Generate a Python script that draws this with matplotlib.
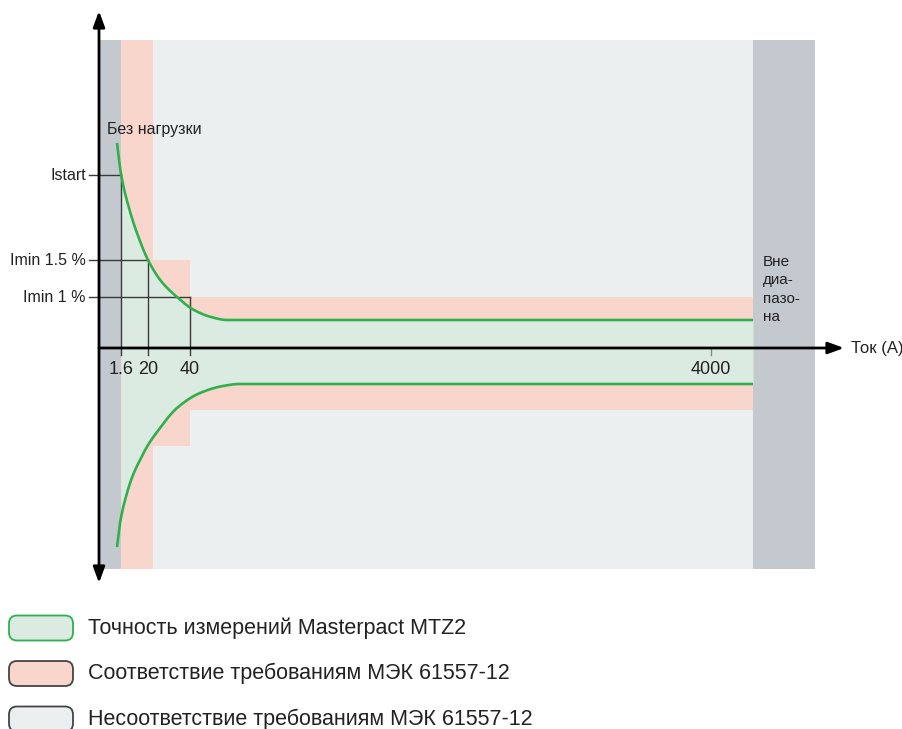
import matplotlib
matplotlib.use("Agg")
import matplotlib.pyplot as plt
from matplotlib.patches import Rectangle, FancyBboxPatch, FancyArrowPatch
import numpy as np

plt.rcParams['font.family'] = ['Liberation Sans', 'DejaVu Sans']

# ---- schematic layout units (origin = intersection of the axes) ----
# zone boundaries along the current axis
x_no_load = 22        # end of the "no load" zone
x_pink_full = 54      # end of the full-height compliance band
x_step = 91           # end of the intermediate step
x_range_end = 654     # end of the measuring range
x_plot_end = 716      # right edge of the "out of range" zone
y_top, y_bottom = 308, -221

# compliance envelope (upper / lower)
pink_step_up, pink_step_low = 88, -98
pink_band_up, pink_band_low = 51, -62

# reference levels on the vertical axis
level_labels = ["Istart", "Imin 1.5 %", "Imin 1 %"]
level_values = [173, 88, 51]
level_x = [22, 49, 91]

# current tick labels and positions
tick_labels = ["1.6", "20", "40", "4000"]
tick_pos = [22, 49, 91, 612]

# measurement accuracy curves
upper_x = [18, 22, 30, 38, 49, 62, 78, 95, 112, 128, 654]
upper_y = [205, 174, 140, 115, 88, 67, 51, 38, 31, 28, 28]
lower_x = [18, 21, 28, 34, 41, 49, 58, 78, 101, 124, 140, 654]
lower_y = [-199, -175, -145, -127, -112, -97, -84, -60, -45, -38, -36, -36]

legend_labels = ["Точность измерений Masterpact MTZ2",
                 "Соответствие требованиям МЭК 61557-12",
                 "Несоответствие требованиям МЭК 61557-12"]

# ---- colours ----
c_bg = "#EBEFF0"
c_dark = "#C4C9D0"
c_pink = "#F8D6CB"
c_green_fill = "#DCEBE1"
c_green = "#2EB04F"
c_line = "#3a3a3a"
c_text = "#222222"


def pchip(x, y, xs):
    """Monotone piecewise cubic Hermite interpolation."""
    x = np.asarray(x, float)
    y = np.asarray(y, float)
    h = np.diff(x)
    d = np.diff(y) / h
    m = np.zeros_like(y)
    m[0], m[-1] = d[0], d[-1]
    for k in range(1, len(x) - 1):
        if d[k - 1] * d[k] <= 0:
            m[k] = 0.0
        else:
            w1 = 2 * h[k] + h[k - 1]
            w2 = h[k] + 2 * h[k - 1]
            m[k] = (w1 + w2) / (w1 / d[k - 1] + w2 / d[k])
    idx = np.clip(np.searchsorted(x, xs) - 1, 0, len(x) - 2)
    t = (xs - x[idx]) / h[idx]
    h00 = 2 * t**3 - 3 * t**2 + 1
    h10 = t**3 - 2 * t**2 + t
    h01 = -2 * t**3 + 3 * t**2
    h11 = t**3 - t**2
    return h00 * y[idx] + h10 * h[idx] * m[idx] + h01 * y[idx + 1] + h11 * h[idx] * m[idx + 1]


fig = plt.figure(figsize=(9.03, 7.29), dpi=100)
ax = fig.add_axes([0, 0, 1, 1])
ax.set_xlim(-99, 804)
ax.set_ylim(-381, 348)
ax.axis("off")

# background zones
ax.add_patch(Rectangle((0, y_bottom), x_plot_end, y_top - y_bottom, color=c_bg, lw=0, zorder=0))
ax.add_patch(Rectangle((0, y_bottom), x_no_load, y_top - y_bottom, color=c_dark, lw=0, zorder=1))
ax.add_patch(Rectangle((x_range_end, y_bottom), x_plot_end - x_range_end, y_top - y_bottom,
                       color=c_dark, lw=0, zorder=1))

# compliance envelope
ax.add_patch(Rectangle((x_no_load, y_bottom), x_pink_full - x_no_load, y_top - y_bottom,
                       color=c_pink, lw=0, zorder=1))
ax.add_patch(Rectangle((x_pink_full, pink_step_low), x_step - x_pink_full, pink_step_up - pink_step_low,
                       color=c_pink, lw=0, zorder=1))
ax.add_patch(Rectangle((x_step, pink_band_low), x_range_end - x_step, pink_band_up - pink_band_low,
                       color=c_pink, lw=0, zorder=1))

# smooth accuracy curves
xu = np.linspace(upper_x[0], upper_x[-1], 3000)
yu = pchip(upper_x, upper_y, xu)
xl = np.linspace(lower_x[0], lower_x[-1], 3000)
yl = pchip(lower_x, lower_y, xl)

# accuracy zone fill between the curves
xs = np.linspace(x_no_load, x_range_end, 3000)
ax.fill_between(xs, pchip(lower_x, lower_y, xs), pchip(upper_x, upper_y, xs),
                color=c_green_fill, lw=0, zorder=2)

ax.plot(xu, yu, color=c_green, lw=1.9, zorder=5, solid_capstyle="butt")
ax.plot(xl, yl, color=c_green, lw=1.9, zorder=5, solid_capstyle="butt")

# reference level guide lines
for lab, yv, xv in zip(level_labels, level_values, level_x):
    ax.plot([-10, xv], [yv, yv], color=c_line, lw=1.0, zorder=4)
    ax.plot([xv, xv], [yv, -7], color=c_line, lw=1.0, zorder=4)
    ax.text(-13, yv, lab, ha="right", va="center", fontsize=11.5, color=c_text)

# 4000 tick
ax.plot([tick_pos[3], tick_pos[3]], [0, -7], color="#888888", lw=1.0, zorder=4)
for lab, xp in zip(tick_labels, tick_pos):
    ax.text(xp, -21, lab, ha="center", va="center", fontsize=13, color=c_text)

# axes arrows
arrow_kw = dict(mutation_scale=10, color="black", lw=2.0, zorder=6, shrinkA=0, shrinkB=0)
ax.add_patch(FancyArrowPatch((0, -235), (0, 337),
                             arrowstyle="<|-|>,head_length=0.95,head_width=0.35", **arrow_kw))
ax.add_patch(FancyArrowPatch((0, 0), (745, 0),
                             arrowstyle="-|>,head_length=0.95,head_width=0.35", **arrow_kw))

ax.text(752, 0, "Ток (A)", ha="left", va="center", fontsize=12, color=c_text)
ax.text(8, 219, "Без нагрузки", ha="left", va="center", fontsize=11.5, color=c_text)
ax.text(664, 93, "Вне\nдиа-\nпазо-\nна", ha="left", va="top", fontsize=11,
        linespacing=1.4, color=c_text)

# legend
leg_y = [-280, -325.5, -371]
leg_face = [c_green_fill, c_pink, c_bg]
leg_edge = [c_green, "#444444", "#444444"]
for yv, fc, ec, lab in zip(leg_y, leg_face, leg_edge, legend_labels):
    ax.add_patch(FancyBboxPatch((-90, yv - 12.5), 64, 25, boxstyle="round,pad=0,rounding_size=8",
                                fc=fc, ec=ec, lw=1.3, zorder=3))
    ax.text(-11, yv, lab, ha="left", va="center", fontsize=15.5, color=c_text)

fig.savefig("out.png", dpi=100)
